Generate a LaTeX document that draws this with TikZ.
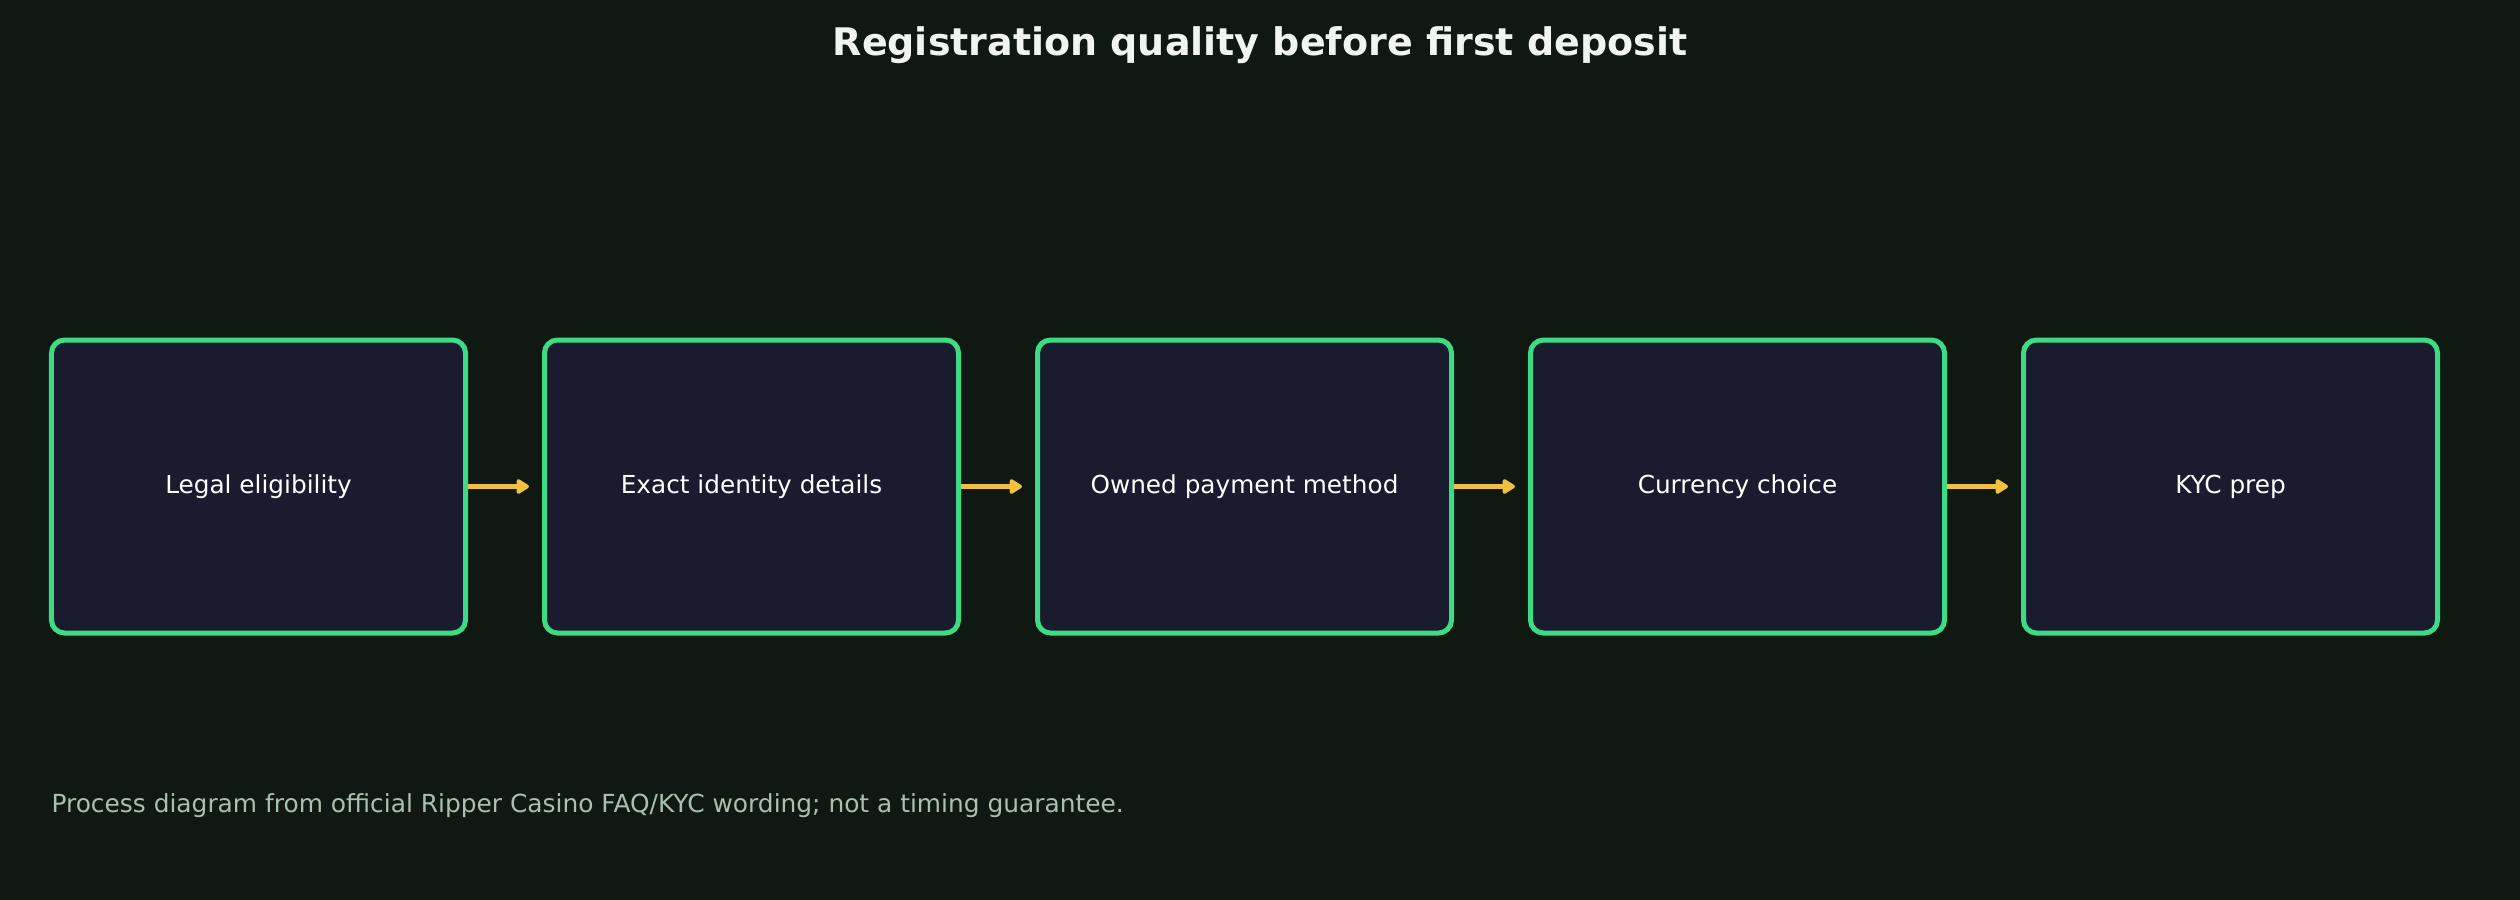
\documentclass[tikz,border=0pt]{standalone}
\usepackage{fontspec}
\setmainfont{DejaVu Sans}
\usetikzlibrary{arrows.meta}
\definecolor{bg}{HTML}{0F1912}
\definecolor{boxfill}{HTML}{1B1B2F}
\definecolor{boxline}{HTML}{3DDC84}
\definecolor{arrowc}{HTML}{F0C040}
\definecolor{titlec}{HTML}{F0F6EE}
\definecolor{notec}{HTML}{A9C0AD}
\tikzset{
  stepbox/.style={draw=boxline, fill=boxfill, line width=2pt, rounded corners=5.2pt,
    minimum width=165.6pt, minimum height=117.2pt, text=white,
    font=\fontsize{9.9pt}{12pt}\selectfont, text height=7.2pt, text depth=2pt, align=center},
  flow/.style={draw=arrowc, line width=1.7pt, -{Triangle[length=5.6pt, width=6.6pt, round]}, shorten >=5.2pt},
  titletext/.style={text=titlec, font=\bfseries\fontsize{15.2pt}{18pt}\selectfont, inner sep=0pt},
  notetext/.style={text=notec, font=\fontsize{9.95pt}{12pt}\selectfont, inner sep=0pt}
}
\begin{document}
\begin{tikzpicture}[x=0.4pt,y=-0.4pt]
\fill[bg] (0,0) rectangle (2520,900);
\useasboundingbox (0,0) rectangle (2520,900);
\node[titletext, anchor=base] (title) at (1260,55) {Registration quality before first deposit};
\node[stepbox] (b1) at (258.5,486.5) {Legal eligibility};
\node[stepbox] (b2) at (751.5,486.5) {Exact identity details};
\node[stepbox] (b3) at (1244.5,486.5) {Owned payment method};
\node[stepbox] (b4) at (1737.5,486.5) {Currency choice};
\node[stepbox] (b5) at (2230.5,486.5) {KYC prep};
\draw[flow] (b1.east) -- (b2.west);
\draw[flow] (b2.east) -- (b3.west);
\draw[flow] (b3.east) -- (b4.west);
\draw[flow] (b4.east) -- (b5.west);
\node[notetext, anchor=base west] (note) at (51,812) {Process diagram from official Ripper Casino FAQ/KYC wording; not a timing guarantee.};
\end{tikzpicture}
\end{document}
